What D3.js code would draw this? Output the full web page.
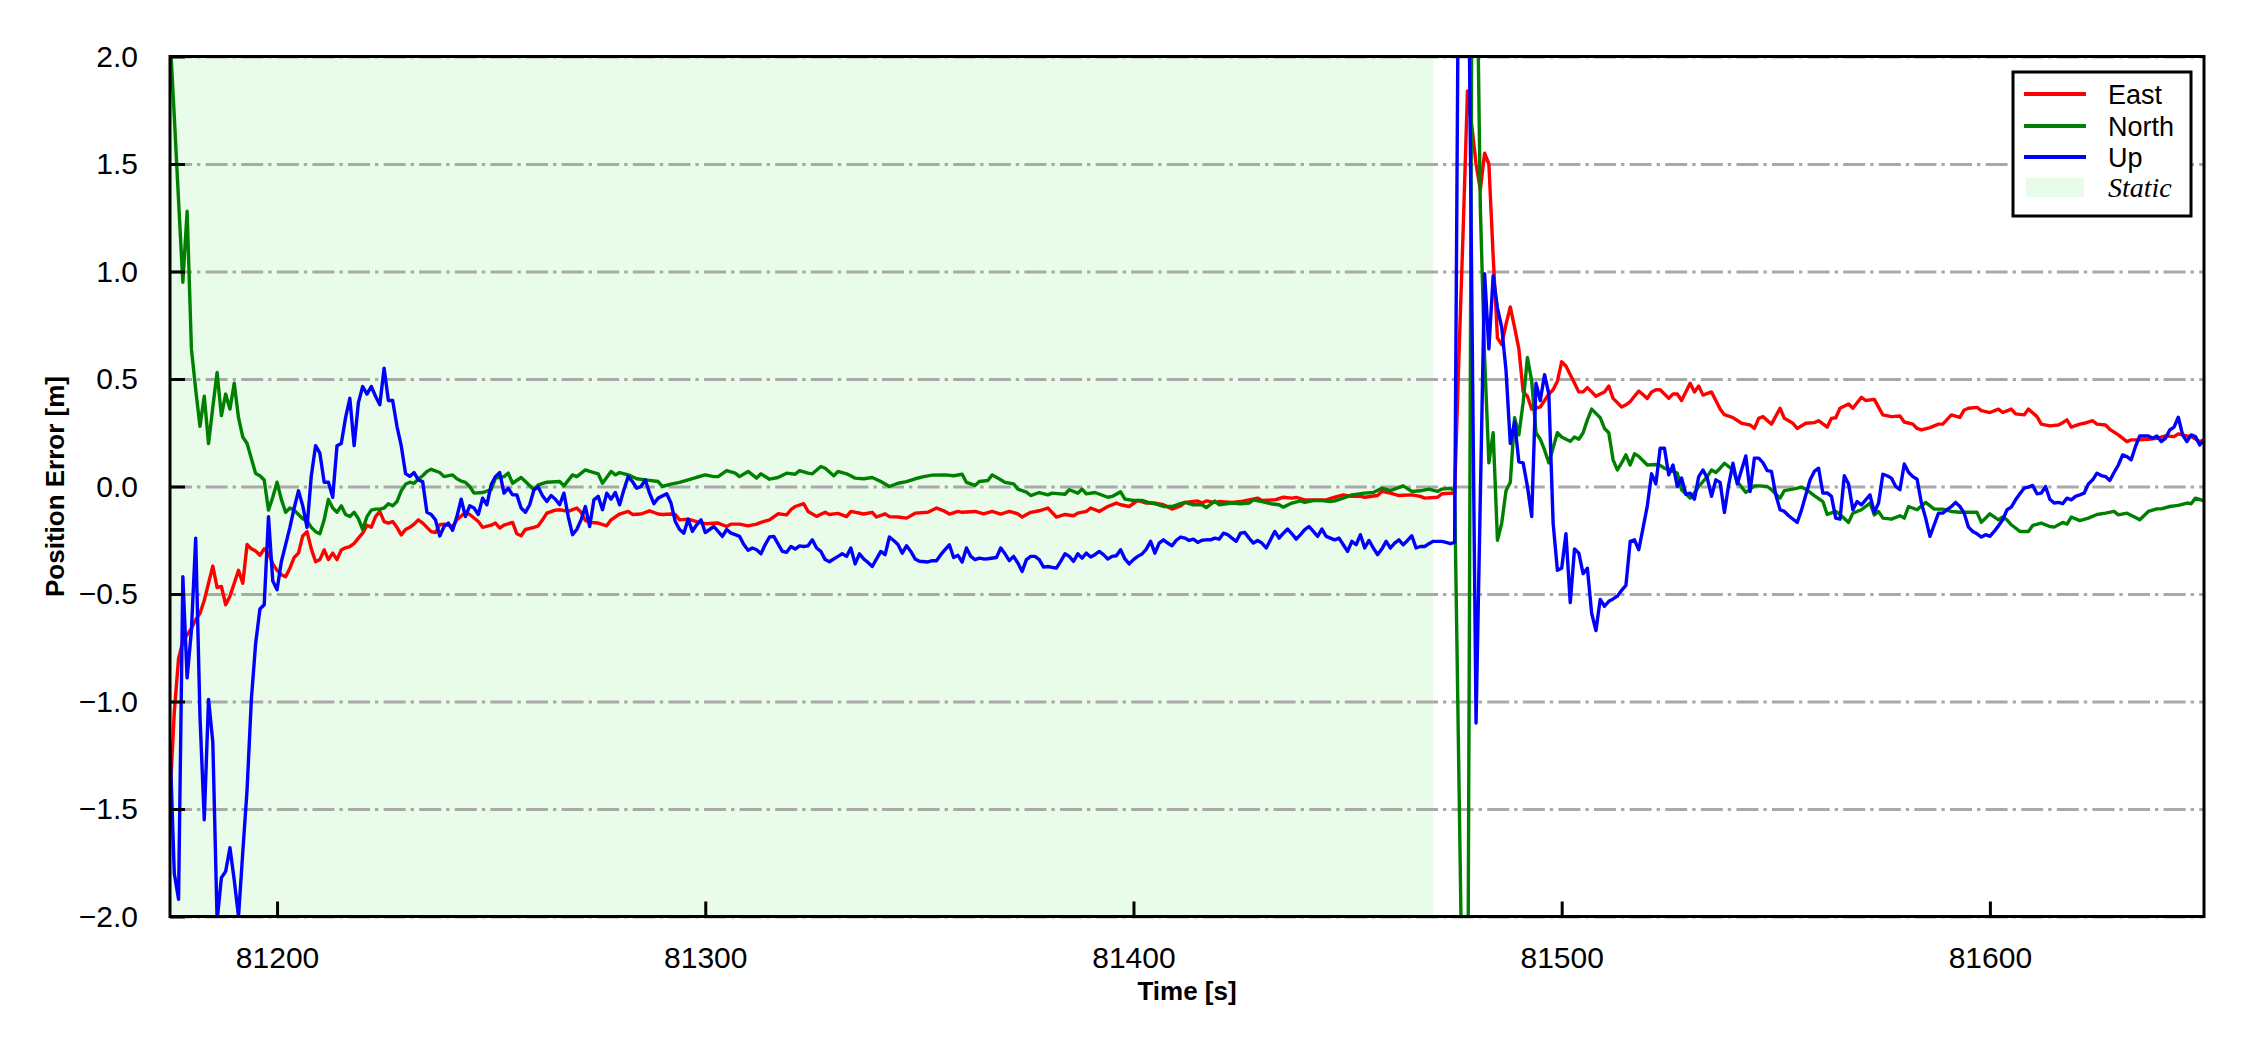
<!DOCTYPE html>
<html>
<head>
<meta charset="utf-8">
<script src="https://cdn.jsdelivr.net/npm/d3@7"></script>
<style>
  html, body { margin: 0; padding: 0; background: #ffffff; }
  svg { display: block; }
</style>
</head>
<body>
<svg id="chart" width="2250" height="1050"></svg>
<script>
// ---------------- DATA ----------------
const xTicks = [81200, 81300, 81400, 81500, 81600];
const yTicks = [-2.0, -1.5, -1.0, -0.5, 0.0, 0.5, 1.0, 1.5, 2.0];
const xDomain = [81175, 81650];
const yDomain = [-2, 2];
const staticSpan = [81175, 81470];
const seriesNames = ["East", "North", "Up"];
const staticLabel = "Static";

const east = [
[81175,-1.45],[81176,-1.05],[81177,-0.80],[81178,-0.72],[81179,-0.69],[81180,-0.66],[81181,-0.62],[81182,-0.59],[81183,-0.53],[81184,-0.45],[81185,-0.37],[81186,-0.47],[81187,-0.465],[81188,-0.55],[81189,-0.51],[81190,-0.45],[81191,-0.39],[81192,-0.45],[81193,-0.27],[81194,-0.29],[81195,-0.30],[81196,-0.32],[81197,-0.29],[81198,-0.31],[81199,-0.36],[81200,-0.39],[81201,-0.41],[81202,-0.42],[81203,-0.38],[81204,-0.33],[81205,-0.31],[81206,-0.23],[81207,-0.21],[81208,-0.29],[81209,-0.35],[81210,-0.34],[81211,-0.295],[81212,-0.34],[81213,-0.31],[81214,-0.34],[81215,-0.295],[81216,-0.285],[81217,-0.28],[81218,-0.265],[81219,-0.24],[81220,-0.217],[81221,-0.18],[81222,-0.19],[81223,-0.14],[81224,-0.116],[81225,-0.163],[81226,-0.17],[81227,-0.163],[81228,-0.19],[81229,-0.225],[81230,-0.20],[81231,-0.19],[81232,-0.175],[81233,-0.155],[81234,-0.17],[81235,-0.19],[81236,-0.21],[81237,-0.214],[81238,-0.178],[81239,-0.175],[81241,-0.186],[81242,-0.155],[81244,-0.12],[81245,-0.13],[81247,-0.163],[81248,-0.19],[81250,-0.18],[81251,-0.17],[81252,-0.193],[81253,-0.18],[81255,-0.167],[81256,-0.22],[81257,-0.229],[81258,-0.20],[81260,-0.19],[81261,-0.183],[81262,-0.155],[81263,-0.124],[81265,-0.11],[81266,-0.108],[81268,-0.116],[81270,-0.10],[81271,-0.12],[81272,-0.158],[81273,-0.167],[81275,-0.17],[81277,-0.183],[81278,-0.155],[81280,-0.128],[81282,-0.116],[81283,-0.13],[81285,-0.128],[81287,-0.113],[81289,-0.128],[81290,-0.13],[81292,-0.128],[81293,-0.13],[81294,-0.155],[81296,-0.152],[81298,-0.163],[81300,-0.173],[81303,-0.17],[81305,-0.186],[81306,-0.175],[81308,-0.175],[81310,-0.183],[81312,-0.175],[81313,-0.167],[81315,-0.155],[81317,-0.127],[81319,-0.132],[81320,-0.108],[81321,-0.093],[81323,-0.08],[81324,-0.116],[81326,-0.139],[81328,-0.12],[81329,-0.13],[81331,-0.125],[81333,-0.14],[81334,-0.116],[81337,-0.128],[81339,-0.12],[81340,-0.142],[81342,-0.127],[81343,-0.14],[81345,-0.142],[81347,-0.147],[81349,-0.124],[81352,-0.12],[81354,-0.10],[81356,-0.116],[81357,-0.128],[81359,-0.116],[81360,-0.12],[81363,-0.116],[81365,-0.127],[81367,-0.116],[81369,-0.128],[81371,-0.116],[81373,-0.127],[81374,-0.142],[81376,-0.12],[81378,-0.113],[81380,-0.10],[81382,-0.142],[81384,-0.13],[81386,-0.136],[81387,-0.124],[81389,-0.116],[81390,-0.10],[81392,-0.116],[81394,-0.093],[81396,-0.077],[81397,-0.085],[81399,-0.093],[81401,-0.065],[81403,-0.077],[81405,-0.077],[81407,-0.085],[81409,-0.105],[81411,-0.09],[81412,-0.074],[81415,-0.067],[81416,-0.077],[81417,-0.067],[81419,-0.074],[81420,-0.07],[81423,-0.074],[81425,-0.07],[81427,-0.062],[81429,-0.054],[81430,-0.065],[81433,-0.062],[81435,-0.05],[81437,-0.054],[81438,-0.051],[81440,-0.062],[81443,-0.062],[81445,-0.062],[81447,-0.05],[81449,-0.039],[81451,-0.046],[81453,-0.046],[81454,-0.05],[81457,-0.042],[81458,-0.023],[81460,-0.031],[81462,-0.042],[81465,-0.039],[81467,-0.046],[81468,-0.054],[81471,-0.05],[81472,-0.034],[81475,-0.03],[81476,0.6],[81477,1.2],[81478,1.84],[81479,1.68],[81480,1.5],[81481,1.38],[81482,1.55],[81483,1.5],[81484,1.07],[81485,0.69],[81486,0.66],[81487,0.755],[81488,0.835],[81489,0.74],[81490,0.64],[81491,0.44],[81492,0.42],[81493,0.36],[81494,0.365],[81495,0.37],[81496,0.40],[81497,0.43],[81498,0.45],[81499,0.49],[81500,0.58],[81501,0.56],[81502,0.52],[81503,0.48],[81504,0.44],[81505,0.44],[81506,0.46],[81507,0.44],[81508,0.42],[81509,0.43],[81510,0.44],[81511,0.467],[81512,0.41],[81513,0.39],[81514,0.37],[81515,0.38],[81516,0.395],[81517,0.42],[81518,0.444],[81520,0.41],[81521,0.44],[81522,0.45],[81523,0.45],[81525,0.41],[81526,0.43],[81527,0.43],[81528,0.40],[81530,0.48],[81531,0.44],[81532,0.467],[81533,0.425],[81535,0.44],[81537,0.36],[81538,0.334],[81540,0.32],[81542,0.294],[81543,0.29],[81544,0.286],[81545,0.27],[81546,0.317],[81547,0.325],[81549,0.29],[81551,0.364],[81552,0.317],[81554,0.294],[81555,0.27],[81557,0.294],[81559,0.297],[81560,0.306],[81562,0.276],[81563,0.317],[81564,0.32],[81565,0.364],[81567,0.384],[81568,0.364],[81570,0.415],[81571,0.40],[81573,0.405],[81575,0.333],[81577,0.325],[81579,0.328],[81580,0.30],[81582,0.29],[81583,0.27],[81584,0.263],[81586,0.274],[81588,0.29],[81589,0.29],[81591,0.333],[81593,0.322],[81594,0.356],[81595,0.364],[81597,0.368],[81598,0.353],[81600,0.344],[81602,0.36],[81603,0.344],[81605,0.36],[81606,0.338],[81608,0.333],[81609,0.36],[81611,0.325],[81612,0.29],[81614,0.282],[81616,0.286],[81617,0.297],[81618,0.31],[81619,0.276],[81621,0.29],[81622,0.294],[81624,0.306],[81625,0.29],[81627,0.286],[81628,0.266],[81630,0.24],[81632,0.209],[81633,0.217],[81635,0.217],[81637,0.22],[81639,0.224],[81641,0.235],[81643,0.232],[81644,0.245],[81646,0.235],[81647,0.232],[81649,0.209],[81650,0.217]
];

const north = [
[81175,2.1],[81176,1.72],[81177,1.33],[81178,0.95],[81179,1.28],[81180,0.64],[81181,0.45],[81182,0.28],[81183,0.42],[81184,0.20],[81185,0.37],[81186,0.53],[81187,0.33],[81188,0.43],[81189,0.36],[81190,0.48],[81191,0.32],[81192,0.23],[81193,0.20],[81194,0.13],[81195,0.06],[81196,0.05],[81197,0.03],[81198,-0.11],[81199,-0.05],[81200,0.02],[81201,-0.06],[81202,-0.12],[81203,-0.10],[81204,-0.11],[81205,-0.13],[81206,-0.15],[81207,-0.16],[81208,-0.19],[81209,-0.21],[81210,-0.22],[81211,-0.155],[81212,-0.06],[81213,-0.10],[81214,-0.12],[81215,-0.09],[81216,-0.13],[81217,-0.14],[81218,-0.12],[81219,-0.15],[81220,-0.20],[81221,-0.14],[81222,-0.11],[81223,-0.105],[81224,-0.105],[81225,-0.10],[81226,-0.08],[81227,-0.09],[81228,-0.07],[81229,-0.02],[81230,0.01],[81231,0.02],[81232,0.015],[81233,0.035],[81234,0.05],[81235,0.07],[81236,0.08],[81238,0.065],[81239,0.046],[81241,0.054],[81242,0.036],[81243,0.025],[81244,0.019],[81245,0.0],[81246,-0.031],[81248,-0.028],[81250,-0.015],[81251,0.039],[81253,0.046],[81254,0.062],[81255,0.015],[81257,0.042],[81258,0.023],[81260,-0.015],[81261,0.008],[81263,0.020],[81266,0.023],[81267,0.003],[81269,0.054],[81270,0.046],[81272,0.077],[81273,0.070],[81275,0.059],[81276,0.015],[81278,0.070],[81279,0.054],[81280,0.065],[81282,0.054],[81284,0.036],[81286,0.031],[81289,0.023],[81290,0.0],[81292,0.011],[81294,0.019],[81296,0.031],[81298,0.043],[81300,0.054],[81302,0.046],[81303,0.046],[81305,0.074],[81307,0.062],[81308,0.046],[81310,0.070],[81312,0.039],[81313,0.059],[81315,0.034],[81317,0.042],[81319,0.062],[81321,0.057],[81322,0.074],[81324,0.062],[81325,0.059],[81327,0.093],[81328,0.085],[81330,0.050],[81331,0.070],[81333,0.059],[81335,0.039],[81337,0.036],[81339,0.042],[81341,0.023],[81343,0.0],[81345,0.015],[81347,0.023],[81349,0.036],[81351,0.046],[81353,0.053],[81356,0.054],[81358,0.050],[81360,0.057],[81361,0.019],[81363,0.005],[81364,0.023],[81366,0.028],[81367,0.054],[81369,0.031],[81370,0.019],[81372,0.012],[81373,-0.012],[81375,-0.026],[81376,-0.042],[81378,-0.028],[81380,-0.039],[81381,-0.031],[81384,-0.036],[81385,-0.015],[81387,-0.031],[81388,-0.012],[81389,-0.034],[81391,-0.028],[81394,-0.050],[81395,-0.046],[81397,-0.025],[81398,-0.059],[81400,-0.065],[81402,-0.065],[81404,-0.077],[81405,-0.08],[81407,-0.093],[81409,-0.093],[81411,-0.080],[81412,-0.074],[81414,-0.085],[81416,-0.085],[81417,-0.098],[81419,-0.068],[81420,-0.085],[81423,-0.077],[81425,-0.080],[81427,-0.077],[81428,-0.062],[81430,-0.070],[81432,-0.080],[81434,-0.085],[81435,-0.096],[81437,-0.077],[81439,-0.067],[81440,-0.074],[81442,-0.065],[81444,-0.065],[81446,-0.070],[81447,-0.067],[81449,-0.054],[81451,-0.039],[81454,-0.031],[81456,-0.028],[81458,-0.008],[81460,-0.019],[81463,0.003],[81465,-0.023],[81467,-0.020],[81469,-0.012],[81471,-0.023],[81472,-0.012],[81474,-0.008],[81475,-0.02],[81476,-1.35],[81477,-2.7],[81478,-2.9],[81479,2.2],[81480,2.8],[81481,1.3],[81482,0.6],[81483,0.11],[81484,0.25],[81485,-0.25],[81486,-0.17],[81487,-0.02],[81488,0.02],[81489,0.32],[81490,0.24],[81491,0.39],[81492,0.60],[81493,0.49],[81494,0.25],[81495,0.22],[81496,0.17],[81497,0.11],[81498,0.18],[81499,0.25],[81500,0.23],[81501,0.22],[81502,0.21],[81503,0.23],[81504,0.22],[81505,0.25],[81506,0.31],[81507,0.36],[81508,0.34],[81509,0.32],[81510,0.27],[81511,0.25],[81512,0.124],[81513,0.077],[81514,0.11],[81515,0.147],[81516,0.10],[81517,0.152],[81518,0.14],[81519,0.12],[81520,0.10],[81522,0.102],[81523,0.098],[81524,0.085],[81527,0.062],[81528,-0.015],[81530,-0.054],[81531,-0.03],[81532,0.0],[81534,0.046],[81535,0.077],[81536,0.065],[81537,0.085],[81538,0.108],[81540,0.077],[81541,0.023],[81543,-0.028],[81545,0.003],[81546,0.003],[81548,0.0],[81549,-0.015],[81551,-0.054],[81552,-0.019],[81554,-0.012],[81556,-0.003],[81557,-0.012],[81559,-0.042],[81561,-0.07],[81562,-0.13],[81564,-0.116],[81565,-0.13],[81567,-0.167],[81568,-0.124],[81570,-0.108],[81572,-0.077],[81573,-0.132],[81574,-0.116],[81575,-0.147],[81577,-0.152],[81579,-0.136],[81580,-0.147],[81581,-0.093],[81583,-0.108],[81585,-0.074],[81587,-0.105],[81589,-0.105],[81591,-0.116],[81593,-0.12],[81595,-0.12],[81597,-0.12],[81598,-0.167],[81600,-0.127],[81602,-0.155],[81603,-0.142],[81604,-0.155],[81605,-0.178],[81607,-0.209],[81609,-0.209],[81610,-0.181],[81612,-0.17],[81614,-0.186],[81615,-0.189],[81617,-0.167],[81618,-0.175],[81619,-0.142],[81621,-0.159],[81623,-0.147],[81625,-0.13],[81627,-0.124],[81629,-0.116],[81630,-0.132],[81632,-0.124],[81634,-0.144],[81635,-0.155],[81637,-0.116],[81639,-0.104],[81640,-0.104],[81642,-0.093],[81644,-0.088],[81646,-0.077],[81647,-0.080],[81648,-0.054],[81650,-0.067]
];

const up = [
[81175,-1.2],[81176,-1.80],[81177,-1.92],[81178,-0.42],[81179,-0.89],[81180,-0.67],[81181,-0.24],[81182,-1.07],[81183,-1.55],[81184,-0.99],[81185,-1.19],[81186,-2.02],[81187,-1.82],[81188,-1.79],[81189,-1.68],[81190,-1.83],[81191,-2.0],[81192,-1.7],[81193,-1.41],[81194,-0.99],[81195,-0.73],[81196,-0.57],[81197,-0.55],[81198,-0.14],[81199,-0.44],[81200,-0.48],[81201,-0.35],[81202,-0.27],[81203,-0.19],[81204,-0.10],[81205,-0.02],[81206,-0.09],[81207,-0.19],[81208,0.05],[81209,0.19],[81210,0.155],[81211,0.02],[81212,0.02],[81213,-0.05],[81214,0.19],[81215,0.20],[81216,0.32],[81217,0.41],[81218,0.19],[81219,0.39],[81220,0.465],[81221,0.43],[81222,0.465],[81223,0.42],[81224,0.38],[81225,0.55],[81226,0.40],[81227,0.40],[81228,0.28],[81229,0.19],[81230,0.06],[81231,0.047],[81232,0.065],[81233,0.031],[81234,0.023],[81235,-0.12],[81236,-0.13],[81237,-0.155],[81238,-0.23],[81239,-0.186],[81240,-0.17],[81241,-0.204],[81242,-0.14],[81243,-0.059],[81244,-0.14],[81245,-0.09],[81246,-0.10],[81247,-0.13],[81248,-0.054],[81249,-0.085],[81250,0.008],[81251,0.046],[81252,0.065],[81253,-0.031],[81254,-0.008],[81255,-0.039],[81256,-0.039],[81257,-0.10],[81258,-0.12],[81259,-0.085],[81260,-0.015],[81261,-0.003],[81262,-0.043],[81263,-0.07],[81264,-0.042],[81265,-0.059],[81266,-0.085],[81267,-0.031],[81268,-0.14],[81269,-0.224],[81270,-0.20],[81271,-0.155],[81272,-0.093],[81273,-0.186],[81274,-0.062],[81275,-0.046],[81276,-0.108],[81277,-0.031],[81278,-0.059],[81279,-0.028],[81280,-0.085],[81281,-0.015],[81282,0.046],[81283,0.023],[81284,-0.008],[81285,0.0],[81286,0.031],[81287,-0.031],[81288,-0.08],[81289,-0.054],[81291,-0.034],[81292,-0.077],[81293,-0.163],[81294,-0.20],[81295,-0.217],[81296,-0.152],[81297,-0.209],[81298,-0.178],[81299,-0.155],[81300,-0.214],[81301,-0.20],[81302,-0.186],[81303,-0.209],[81304,-0.232],[81305,-0.20],[81306,-0.217],[81307,-0.224],[81308,-0.232],[81309,-0.27],[81310,-0.297],[81311,-0.286],[81312,-0.294],[81313,-0.313],[81314,-0.27],[81315,-0.235],[81316,-0.232],[81318,-0.302],[81319,-0.306],[81320,-0.279],[81321,-0.291],[81322,-0.276],[81323,-0.279],[81324,-0.276],[81325,-0.248],[81326,-0.286],[81327,-0.302],[81328,-0.34],[81329,-0.35],[81330,-0.337],[81331,-0.325],[81332,-0.313],[81333,-0.325],[81334,-0.286],[81335,-0.36],[81336,-0.313],[81337,-0.337],[81338,-0.353],[81339,-0.372],[81340,-0.337],[81341,-0.302],[81342,-0.317],[81343,-0.235],[81344,-0.251],[81345,-0.27],[81346,-0.31],[81347,-0.276],[81348,-0.302],[81349,-0.337],[81350,-0.348],[81352,-0.351],[81353,-0.345],[81354,-0.345],[81355,-0.317],[81356,-0.294],[81357,-0.271],[81358,-0.33],[81359,-0.32],[81360,-0.351],[81361,-0.286],[81362,-0.325],[81363,-0.34],[81364,-0.333],[81365,-0.337],[81366,-0.336],[81368,-0.33],[81369,-0.286],[81370,-0.313],[81371,-0.345],[81372,-0.325],[81373,-0.356],[81374,-0.395],[81375,-0.34],[81376,-0.325],[81377,-0.325],[81378,-0.34],[81379,-0.375],[81380,-0.372],[81381,-0.376],[81382,-0.38],[81383,-0.348],[81384,-0.313],[81385,-0.325],[81386,-0.348],[81387,-0.313],[81388,-0.333],[81389,-0.31],[81390,-0.328],[81391,-0.317],[81392,-0.302],[81393,-0.317],[81394,-0.337],[81395,-0.325],[81396,-0.322],[81397,-0.294],[81398,-0.337],[81399,-0.36],[81400,-0.34],[81401,-0.325],[81402,-0.314],[81403,-0.291],[81404,-0.255],[81405,-0.31],[81406,-0.263],[81407,-0.248],[81408,-0.263],[81409,-0.276],[81410,-0.25],[81411,-0.235],[81412,-0.24],[81413,-0.251],[81414,-0.245],[81415,-0.26],[81416,-0.25],[81417,-0.248],[81418,-0.248],[81419,-0.24],[81420,-0.245],[81421,-0.217],[81422,-0.224],[81423,-0.24],[81424,-0.255],[81425,-0.217],[81426,-0.214],[81427,-0.24],[81428,-0.263],[81429,-0.251],[81430,-0.263],[81431,-0.286],[81432,-0.248],[81433,-0.209],[81434,-0.24],[81435,-0.217],[81436,-0.198],[81437,-0.22],[81438,-0.245],[81439,-0.224],[81440,-0.201],[81441,-0.186],[81442,-0.209],[81443,-0.232],[81444,-0.198],[81445,-0.232],[81446,-0.24],[81447,-0.248],[81448,-0.24],[81449,-0.271],[81450,-0.302],[81451,-0.255],[81452,-0.271],[81453,-0.224],[81454,-0.286],[81455,-0.251],[81456,-0.286],[81457,-0.317],[81458,-0.291],[81459,-0.255],[81460,-0.286],[81461,-0.263],[81462,-0.248],[81463,-0.271],[81464,-0.251],[81465,-0.229],[81466,-0.286],[81467,-0.279],[81468,-0.279],[81469,-0.266],[81470,-0.255],[81471,-0.255],[81472,-0.255],[81473,-0.26],[81474,-0.266],[81475,-0.26],[81476,2.8],[81477,3.3],[81478,3.0],[81479,0.9],[81480,-1.10],[81481,-0.05],[81482,0.99],[81483,0.64],[81484,0.98],[81485,0.83],[81486,0.74],[81487,0.54],[81488,0.20],[81489,0.30],[81490,0.115],[81491,0.11],[81492,0.0],[81493,-0.14],[81494,0.48],[81495,0.40],[81496,0.52],[81497,0.43],[81498,-0.17],[81499,-0.39],[81500,-0.38],[81501,-0.22],[81502,-0.54],[81503,-0.29],[81504,-0.31],[81505,-0.405],[81506,-0.38],[81507,-0.59],[81508,-0.67],[81509,-0.525],[81510,-0.557],[81511,-0.534],[81512,-0.523],[81513,-0.51],[81514,-0.483],[81515,-0.46],[81516,-0.255],[81517,-0.248],[81518,-0.294],[81519,-0.193],[81520,-0.09],[81521,0.059],[81522,0.012],[81523,0.178],[81524,0.178],[81525,0.054],[81526,0.10],[81527,0.0],[81528,0.039],[81529,-0.036],[81530,-0.031],[81531,-0.059],[81532,0.046],[81533,0.077],[81534,0.039],[81535,-0.046],[81536,0.031],[81537,0.019],[81538,-0.121],[81539,0.008],[81540,0.108],[81541,0.012],[81542,0.077],[81543,0.142],[81544,-0.023],[81545,0.132],[81546,0.132],[81547,0.111],[81548,0.074],[81549,0.07],[81550,-0.039],[81551,-0.108],[81552,-0.116],[81553,-0.136],[81555,-0.167],[81556,-0.11],[81557,-0.04],[81558,0.03],[81559,0.07],[81560,0.085],[81561,-0.031],[81562,-0.03],[81563,-0.046],[81564,-0.147],[81565,-0.152],[81566,0.05],[81567,0.012],[81568,-0.108],[81569,-0.07],[81570,-0.085],[81571,-0.062],[81572,-0.039],[81573,-0.121],[81574,-0.077],[81575,0.057],[81576,0.05],[81577,0.039],[81578,0.0],[81579,-0.015],[81580,0.105],[81581,0.066],[81582,0.046],[81583,0.034],[81584,-0.077],[81585,-0.147],[81586,-0.232],[81587,-0.178],[81588,-0.124],[81589,-0.124],[81590,-0.108],[81591,-0.093],[81592,-0.074],[81593,-0.093],[81594,-0.124],[81595,-0.189],[81596,-0.209],[81597,-0.22],[81598,-0.235],[81599,-0.224],[81600,-0.232],[81601,-0.209],[81602,-0.183],[81603,-0.155],[81604,-0.108],[81605,-0.096],[81606,-0.062],[81607,-0.034],[81608,-0.008],[81609,-0.003],[81610,0.005],[81611,-0.034],[81612,-0.031],[81613,0.0],[81614,-0.059],[81615,-0.077],[81616,-0.074],[81617,-0.08],[81618,-0.054],[81619,-0.062],[81620,-0.046],[81621,-0.039],[81622,-0.031],[81623,0.012],[81624,0.031],[81625,0.062],[81626,0.051],[81627,0.046],[81628,0.028],[81629,0.065],[81630,0.10],[81631,0.147],[81632,0.139],[81633,0.124],[81634,0.186],[81635,0.235],[81636,0.235],[81637,0.235],[81638,0.224],[81639,0.235],[81640,0.209],[81641,0.224],[81642,0.263],[81643,0.276],[81644,0.322],[81645,0.24],[81646,0.209],[81647,0.24],[81648,0.232],[81649,0.193],[81650,0.217]
];

const seriesColors = ["#ff0000", "#008000", "#0000ff"];
const staticColor = "#e9fce9";

// ---------------- LAYOUT ----------------
const W = 2250, H = 1050;
const M = { left: 170, right: 2204, top: 56.5, bottom: 916.5 };
const FONT = "'Liberation Sans', Arial, Helvetica, sans-serif";

const svg = d3.select("#chart");
svg.append("rect").attr("width", W).attr("height", H).attr("fill", "#ffffff");

const x = d3.scaleLinear().domain(xDomain).range([M.left, M.right]);
const y = d3.scaleLinear().domain(yDomain).range([M.bottom, M.top]);

svg.append("defs").append("clipPath").attr("id", "plotClip")
  .append("rect")
  .attr("x", M.left).attr("y", M.top)
  .attr("width", M.right - M.left).attr("height", M.bottom - M.top);

// static span
svg.append("rect")
  .attr("x", x(staticSpan[0])).attr("y", M.top)
  .attr("width", x(staticSpan[1]) - x(staticSpan[0]))
  .attr("height", M.bottom - M.top)
  .attr("fill", staticColor);

// horizontal grid (dash-dot)
const grid = d3.axisLeft(y).tickValues(yTicks).tickSize(-(M.right - M.left)).tickFormat("");
const gG = svg.append("g").attr("transform", `translate(${M.left},0)`).call(grid);
gG.select(".domain").remove();
gG.selectAll("line")
  .attr("stroke", "#a9a9a9").attr("stroke-width", 3)
  .attr("stroke-dasharray", "22,5,3.4,5.2");

// data lines
const line = d3.line().x(d => x(d[0])).y(d => y(d[1]));
const plotG = svg.append("g").attr("clip-path", "url(#plotClip)");
[east, north, up].forEach((s, i) => {
  plotG.append("path").datum(s)
    .attr("d", line)
    .attr("fill", "none")
    .attr("stroke", seriesColors[i])
    .attr("stroke-width", 3.4)
    .attr("stroke-linejoin", "round")
    .attr("stroke-linecap", "butt");
});

// axes (ticks inward)
const xAxis = d3.axisBottom(x).tickValues(xTicks).tickFormat(d3.format("d"))
  .tickSizeInner(-15).tickSizeOuter(0).tickPadding(30);
const gx = svg.append("g").attr("transform", `translate(0,${M.bottom})`).call(xAxis);
gx.select(".domain").remove();
gx.selectAll(".tick line").attr("stroke", "#000").attr("stroke-width", 3);
gx.selectAll(".tick text")
  .attr("font-family", FONT).attr("font-size", 30).attr("fill", "#000");

const yAxis = d3.axisLeft(y).tickValues(yTicks).tickFormat(d3.format(".1f"))
  .tickSizeInner(-15).tickSizeOuter(0).tickPadding(32);
const gy = svg.append("g").attr("transform", `translate(${M.left},0)`).call(yAxis);
gy.select(".domain").remove();
gy.selectAll(".tick line").attr("stroke", "#000").attr("stroke-width", 3);
gy.selectAll(".tick text")
  .attr("font-family", FONT).attr("font-size", 30).attr("fill", "#000");

// frame
svg.append("rect")
  .attr("x", M.left).attr("y", M.top)
  .attr("width", M.right - M.left).attr("height", M.bottom - M.top)
  .attr("fill", "none").attr("stroke", "#000").attr("stroke-width", 3);

// axis titles
svg.append("text")
  .attr("x", (M.left + M.right) / 2).attr("y", 1000)
  .attr("text-anchor", "middle")
  .attr("font-family", FONT).attr("font-weight", "bold").attr("font-size", 26)
  .text("Time [s]");
svg.append("text")
  .attr("transform", `translate(64,${(M.top + M.bottom) / 2}) rotate(-90)`)
  .attr("text-anchor", "middle")
  .attr("font-family", FONT).attr("font-weight", "bold").attr("font-size", 26)
  .text("Position Error [m]");

// legend
const lg = svg.append("g");
lg.append("rect")
  .attr("x", 2013).attr("y", 72).attr("width", 178).attr("height", 144)
  .attr("fill", "#ffffff").attr("stroke", "#000").attr("stroke-width", 3);
const rowY = [94, 126, 157];
const baseY = [104, 136, 167];
seriesNames.forEach((n, i) => {
  lg.append("line")
    .attr("x1", 2024).attr("x2", 2086).attr("y1", rowY[i]).attr("y2", rowY[i])
    .attr("stroke", seriesColors[i]).attr("stroke-width", 4);
  lg.append("text")
    .attr("x", 2108).attr("y", baseY[i])
    .attr("font-family", FONT).attr("font-size", 27).attr("fill", "#000")
    .text(n);
});
lg.append("rect")
  .attr("x", 2026).attr("y", 178).attr("width", 58).attr("height", 19)
  .attr("fill", staticColor);
lg.append("text")
  .attr("x", 2108).attr("y", 197)
  .attr("font-family", "'Liberation Serif', 'Times New Roman', serif")
  .attr("font-style", "italic").attr("font-size", 28).attr("fill", "#000")
  .text(staticLabel);
</script>
</body>
</html>
